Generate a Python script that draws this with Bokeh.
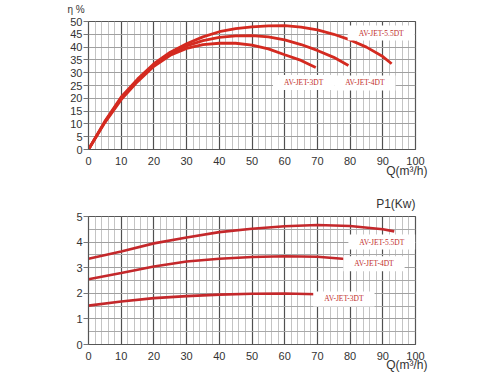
from bokeh.plotting import figure
from bokeh.layouts import column
from bokeh.models import SingleIntervalTicker, Label, Range1d, Title
from bokeh.embed import file_html
from bokeh.resources import INLINE

# ---- data: efficiency (top) ----
q_3dt = [0, 5, 10, 15, 20, 25, 30, 35, 40, 45, 50, 55, 60, 65, 69.5]
eff_3dt = [0, 10.5, 19.5, 26.5, 32.5, 36.8, 39.5, 41, 41.5, 41.5, 40.8, 39.3, 37, 34.8, 32]
q_4dt = [0, 5, 10, 15, 20, 25, 30, 35, 40, 45, 50, 55, 60, 65, 70, 75, 79.5]
eff_4dt = [0, 10.8, 20, 27, 33, 37.5, 40.5, 42.5, 43.8, 44.4, 44.5, 44, 42.8, 41, 38.7, 36, 32.8]
q_55dt = [0, 5, 10, 15, 20, 25, 30, 35, 40, 45, 50, 55, 60, 65, 70, 75, 80, 85, 90, 92.7]
eff_55dt = [0, 11, 20.5, 27.5, 33.5, 38, 41.3, 44, 46, 47.2, 47.9, 48.3, 48.4, 47.8, 46.7, 45, 42.8, 40, 36.3, 33.5]

# ---- data: power P1 (bottom) ----
pq_3dt = [0, 10, 20, 30, 40, 50, 60, 70]
p1_3dt = [1.52, 1.68, 1.81, 1.89, 1.95, 1.98, 1.99, 1.96]
pq_4dt = [0, 10, 20, 30, 40, 50, 60, 70, 79.5]
p1_4dt = [2.55, 2.79, 3.05, 3.24, 3.35, 3.42, 3.45, 3.43, 3.33]
pq_55dt = [0, 10, 20, 30, 40, 50, 60, 70, 80, 90, 93.5]
p1_55dt = [3.35, 3.63, 3.95, 4.18, 4.39, 4.52, 4.62, 4.67, 4.63, 4.5, 4.42]

names = ["AV-JET-3DT", "AV-JET-4DT", "AV-JET-5.5DT"]

TOP_RED = "#d42a20"
BOT_RED = "#c4282b"
LABEL_RED = "#bf2e2a"
TICK_FONT = "Liberation Sans"


def style(p, y_interval, y_minor):
    p.outline_line_color = "#555555"
    p.outline_line_width = 1.2
    p.xaxis.ticker = SingleIntervalTicker(interval=10, num_minor_ticks=5)
    p.yaxis.ticker = SingleIntervalTicker(interval=y_interval, num_minor_ticks=y_minor)
    p.xgrid.ticker = p.xaxis.ticker
    p.ygrid.ticker = p.yaxis.ticker
    p.xgrid.grid_line_color = "#505050"
    p.xgrid.grid_line_width = 1.2
    p.xgrid.minor_grid_line_color = "#c4c4c4"
    p.xgrid.minor_grid_line_width = 1
    p.ygrid.grid_line_color = "#a0a0a0"
    p.ygrid.grid_line_width = 1
    if y_minor:
        p.ygrid.minor_grid_line_color = "#a8a8a8"
    for ax in (p.xaxis, p.yaxis):
        ax.axis_line_color = "#555555"
        ax.major_tick_line_color = "#777777"
        ax.minor_tick_line_color = None
        ax.major_label_text_font = TICK_FONT
        ax.major_label_text_font_size = "11px"
        ax.major_label_text_color = "#333333"
    p.xaxis.major_tick_out = 0
    p.xaxis.major_tick_in = 0
    p.xaxis.major_label_standoff = 3
    p.yaxis.major_tick_out = 5
    p.yaxis.major_tick_in = 0
    p.yaxis.major_label_standoff = 1


def tag(p, x, y, text):
    p.add_layout(Label(x=x, y=y, text=text, text_font="Liberation Serif",
                       text_font_size="7.5px", text_color=LABEL_RED,
                       text_align="center", text_baseline="middle",
                       background_fill_color="white", padding=(11, 3)))


def title(p, text, side, align, offset, standoff, size="12px"):
    p.add_layout(Title(text=text, align=align, offset=offset, standoff=standoff,
                       text_font=TICK_FONT, text_font_size=size,
                       text_font_style="normal", text_color="#333333"), side)


# ---- top figure ----
p1 = figure(width=480, height=188, output_backend="svg", toolbar_location=None,
            x_range=Range1d(0, 100), y_range=Range1d(0, 50),
            min_border_left=85, min_border_right=65, min_border_top=21,
            min_border_bottom=39)
style(p1, 5, 0)
for xs, ys in ((q_3dt, eff_3dt), (q_4dt, eff_4dt), (q_55dt, eff_55dt)):
    p1.line(xs, ys, line_color=TOP_RED, line_width=2.8)
tag(p1, 65.8, 26.2, names[0])
tag(p1, 84.5, 26.0, names[1])
tag(p1, 89.5, 45.5, names[2])
title(p1, " ", "above", "left", 0, 4, size="1px")      # spacer
title(p1, "η %", "above", "left", -21, 0, size="10px")
title(p1, "Q(m³/h)", "below", "right", -12, -12)

# ---- bottom figure ----
p2 = figure(width=480, height=185, output_backend="svg", toolbar_location=None,
            x_range=Range1d(0, 100), y_range=Range1d(0, 5),
            min_border_left=88, min_border_right=63, min_border_top=28,
            min_border_bottom=29)
style(p2, 1, 2)
for xs, ys in ((pq_3dt, p1_3dt), (pq_4dt, p1_4dt), (pq_55dt, p1_55dt)):
    p2.line(xs, ys, line_color=BOT_RED, line_width=2.6)
tag(p2, 78.1, 1.78, names[0])
tag(p2, 87.3, 3.15, names[1])
tag(p2, 89.7, 4.0, names[2])
title(p2, "P1(Kw)", "above", "right", 0, 11)
title(p2, "Q(m³/h)", "below", "right", -12, -13)

layout = column(p1, p2, spacing=0)
open("out.html", "w").write(file_html(layout, INLINE))
